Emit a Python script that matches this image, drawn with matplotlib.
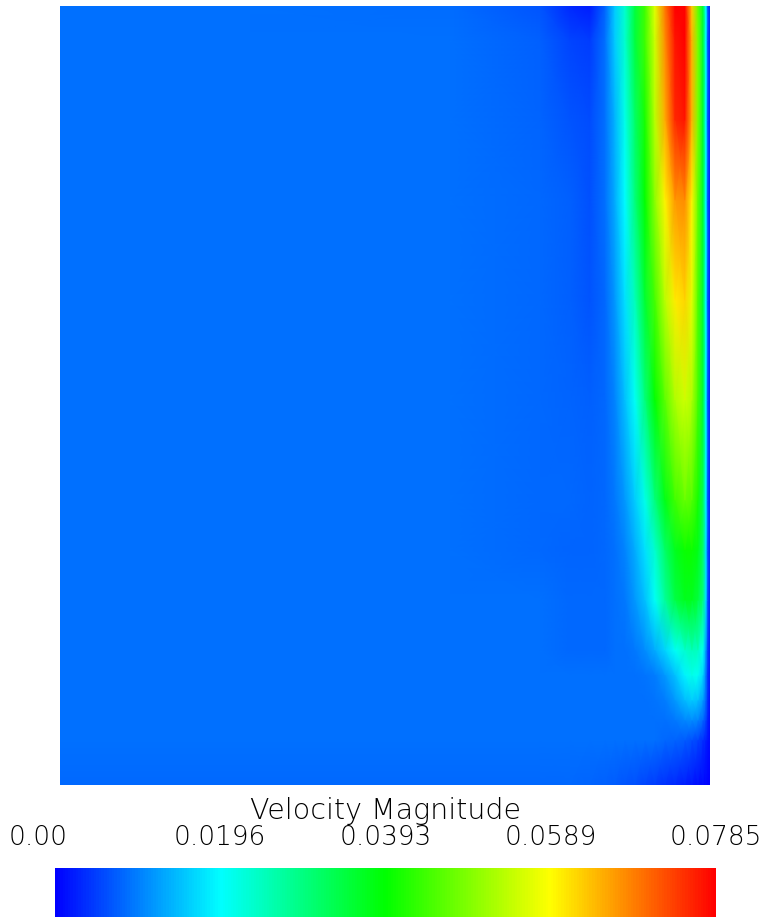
import numpy as np
import matplotlib
matplotlib.use("Agg")
import matplotlib.pyplot as plt
from matplotlib.colors import LinearSegmentedColormap, Normalize
from matplotlib.transforms import ScaledTranslation, blended_transform_factory

# ---------------- data ----------------
# node positions across the cavity (0 = left wall, 1 = right wall)
x_nodes = [0.0, 0.2923, 0.6, 0.7385, 0.7846, 0.8154, 0.8385, 0.8538, 0.8692,
           0.8846, 0.9, 0.9154, 0.9308, 0.9462, 0.9615, 0.9723, 0.9815,
           0.9892, 0.9938, 0.9969, 1.0]
# node heights (0 = bottom, 1 = top)
y_nodes = [0.0, 0.0578, 0.0834, 0.1091, 0.1412, 0.1733, 0.2375, 0.3017,
           0.3659, 0.4942, 0.6226, 0.7510, 0.8537, 0.9563, 1.0]

# velocity magnitude in mm/s along each row, bottom to top
row_y00 = [8.2, 8.2, 8.2, 8.2, 8.2, 7.9, 7.5, 7.1, 6.7, 6.3, 5.5, 4.7, 3.9, 3.1, 2.4, 1.6, 1.2, 0.8, 0.4, 0.2, 0.0]
row_y01 = [8.6, 8.6, 8.6, 8.6, 8.6, 8.6, 8.6, 8.6, 8.6, 8.6, 8.6, 8.6, 8.2, 7.9, 7.1, 6.3, 5.5, 3.9, 2.7, 1.6, 0.8]
row_y02 = [8.6, 8.6, 8.6, 8.6, 8.6, 8.6, 8.6, 8.6, 8.6, 8.6, 8.6, 8.6, 8.6, 9.4, 10.6, 11.0, 10.2, 8.2, 5.5, 2.7, 1.2]
row_y03 = [8.6, 8.6, 8.6, 8.6, 8.6, 8.6, 8.6, 8.6, 8.6, 8.6, 8.6, 9.0, 9.8, 11.8, 14.5, 15.7, 14.9, 12.2, 7.9, 3.5, 1.2]
row_y04 = [8.6, 8.6, 8.6, 8.6, 8.6, 8.6, 8.6, 8.6, 8.6, 8.6, 9.0, 9.8, 11.8, 14.9, 18.8, 21.2, 20.4, 16.5, 9.4, 3.9, 1.6]
row_y05 = [8.6, 8.6, 8.6, 8.6, 8.2, 8.2, 8.2, 8.6, 8.6, 9.4, 11.0, 13.3, 16.5, 20.4, 23.6, 25.1, 24.3, 20.4, 11.8, 4.7, 1.6]
row_y06 = [8.6, 8.6, 8.6, 8.6, 8.2, 8.2, 8.2, 8.6, 9.4, 11.8, 14.9, 20.4, 27.5, 33.8, 36.9, 36.9, 34.5, 29.8, 17.3, 6.3, 2.4]
row_y07 = [8.6, 8.6, 8.6, 8.2, 7.9, 7.9, 8.2, 8.6, 10.2, 13.3, 17.3, 23.6, 31.4, 36.9, 40.0, 40.0, 37.7, 31.4, 17.3, 6.3, 2.4]
row_y08 = [8.6, 8.6, 8.6, 8.2, 8.2, 7.9, 8.2, 9.4, 11.8, 15.7, 21.2, 29.8, 37.7, 44.0, 47.1, 45.5, 40.8, 33.0, 18.8, 6.3, 2.4]
row_y09 = [8.6, 8.6, 8.6, 8.2, 7.9, 7.5, 8.2, 10.2, 14.9, 20.4, 29.8, 39.3, 46.3, 52.6, 55.0, 52.6, 44.7, 35.3, 19.6, 6.3, 2.4]
row_y10 = [8.6, 8.6, 8.6, 8.2, 7.5, 6.7, 8.2, 11.8, 17.3, 25.1, 35.3, 44.7, 53.4, 60.4, 62.0, 56.5, 45.5, 35.3, 19.6, 6.3, 2.4]
row_y11 = [8.6, 8.6, 8.6, 8.2, 7.5, 6.3, 8.6, 13.3, 19.6, 29.8, 39.3, 50.2, 59.7, 66.7, 67.5, 59.7, 47.1, 36.1, 19.6, 6.3, 2.4]
row_y12 = [8.6, 8.6, 8.6, 7.9, 6.7, 5.9, 8.6, 14.1, 21.2, 31.4, 40.8, 53.4, 65.2, 75.4, 76.9, 64.4, 48.7, 36.1, 19.6, 6.3, 2.4]
row_y13 = [8.6, 8.6, 8.6, 7.5, 5.5, 4.7, 8.6, 15.7, 23.6, 34.5, 44.0, 55.0, 67.5, 76.9, 78.5, 64.4, 48.7, 35.3, 19.6, 6.3, 2.4]
row_y14 = [8.6, 8.6, 8.4, 6.7, 3.1, 2.4, 7.9, 15.7, 23.6, 34.5, 44.0, 56.5, 69.1, 78.5, 78.5, 62.8, 47.1, 35.3, 19.6, 6.3, 2.4]

v_min = 0.0
v_max = 0.0785
tick_values = [0.0, 0.0196, 0.0393, 0.0589, 0.0785]
tick_labels = ["0.00", "0.0196", "0.0393", "0.0589", "0.0785"]
bar_title = "Velocity Magnitude"

# ---------------- figure ----------------
W, H = 771, 917
fig = plt.figure(figsize=(W / 100, H / 100), dpi=100)
fig.patch.set_facecolor("white")

cmap = LinearSegmentedColormap.from_list(
    "bcgyr", ["#0000ff", "#00ffff", "#00ff00", "#ffff00", "#ff0000"], N=256)
norm = Normalize(vmin=v_min, vmax=v_max)

speed = np.array([row_y00, row_y01, row_y02, row_y03, row_y04, row_y05,
                  row_y06, row_y07, row_y08, row_y09, row_y10, row_y11,
                  row_y12, row_y13, row_y14]) / 1000.0
X, Y = np.meshgrid(np.array(x_nodes), np.array(y_nodes))

ax = fig.add_axes([60 / W, 1 - 785 / H, 650 / W, 779 / H])
mesh = ax.pcolormesh(X, Y, speed, shading="gouraud", cmap=cmap, norm=norm,
                     rasterized=True)
ax.set_xlim(0, 1)
ax.set_ylim(0, 1)
ax.set_axis_off()

font = ["DejaVu Sans"]
text_color = "#000000"

cax = fig.add_axes([55 / W, 0.0, 661 / W, 49 / H])
cb = fig.colorbar(mesh, cax=cax, orientation="horizontal")
cb.outline.set_visible(False)
cb.set_ticks([])
cax.set_xticks([])

trans = blended_transform_factory(cax.transData, fig.transFigure)
label_shift_px = [-17, 0, 0, 0, 0]
for v, lab, dx in zip(tick_values, tick_labels, label_shift_px):
    fig.text(v, 1 - 845 / H, lab, ha="center", va="baseline",
             fontsize=19, family=font, weight="light", color=text_color,
             transform=trans + ScaledTranslation(dx / 100, 0, fig.dpi_scale_trans))

fig.text((55 + 661 / 2) / W, 1 - 819 / H, bar_title, ha="center", va="baseline",
         fontsize=20.5, family=font, weight="light", color=text_color)

fig.savefig("out.png", dpi=100, facecolor="white")
